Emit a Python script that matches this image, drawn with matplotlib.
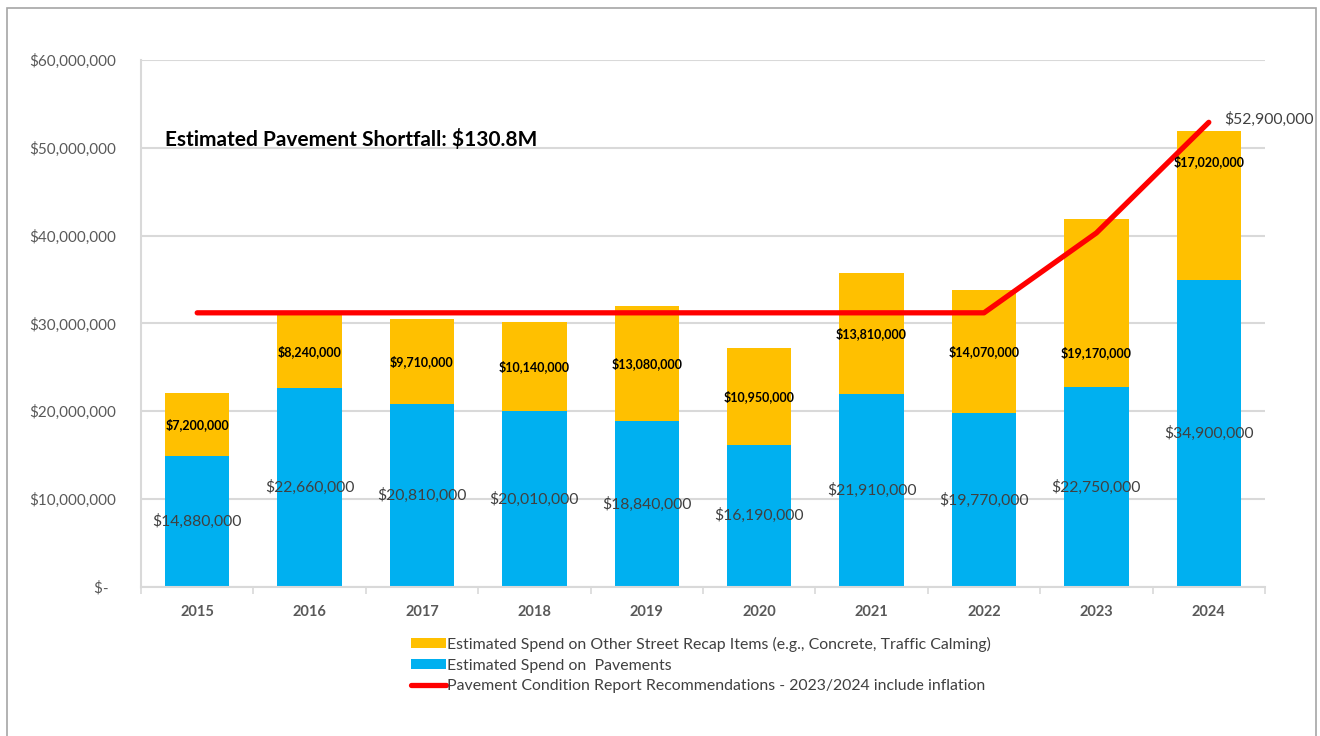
import matplotlib
matplotlib.use("Agg")
import matplotlib.pyplot as plt
from matplotlib.ticker import FuncFormatter, FixedLocator
from matplotlib.patches import Rectangle
import numpy as np

plt.rcParams['font.family'] = ['Lato', 'DejaVu Sans']

years = ['2015', '2016', '2017', '2018', '2019', '2020', '2021', '2022', '2023', '2024']
pavements = [14880000, 22660000, 20810000, 20010000, 18840000,
             16190000, 21910000, 19770000, 22750000, 34900000]
other_items = [7200000, 8240000, 9710000, 10140000, 13080000,
               10950000, 13810000, 14070000, 19170000, 17020000]
recommended = [31200000, 31200000, 31200000, 31200000, 31200000,
               31200000, 31200000, 31200000, 40300000, 52900000]
shortfall_text = "Estimated Pavement Shortfall: $130.8M"

ORANGE = '#FFC000'
BLUE = '#00B0F0'
RED = '#FF0000'
GRID = '#D9D9D9'
TEXT = '#595959'

fig = plt.figure(figsize=(13.2, 7.36), dpi=100)
ax = fig.add_axes([141 / 1320, 1 - 586.7 / 736, (1265 - 141) / 1320, (586.7 - 60) / 736])

# chart frame
fig.patches.append(Rectangle((7 / 1320, -0.01), (1316 - 7) / 1320, 1 - 8 / 736 + 0.01,
                             transform=fig.transFigure, fill=False,
                             edgecolor='#A6A6A6', linewidth=1.2))

x = np.arange(len(years))
w = 0.572
b1 = ax.bar(x, pavements, w, color=BLUE, zorder=2,
            label='Estimated Spend on  Pavements')
b2 = ax.bar(x, other_items, w, bottom=pavements, color=ORANGE, zorder=2,
            label='Estimated Spend on Other Street Recap Items (e.g., Concrete, Traffic Calming)')
line, = ax.plot(x, recommended, color=RED, linewidth=3.8, zorder=3,
                solid_capstyle='round', solid_joinstyle='round',
                label='Pavement Condition Report Recommendations - 2023/2024 include inflation')

def money(v):
    return f"${v:,.0f}"

for i in x:
    ax.text(i, pavements[i] / 2, money(pavements[i]), ha='center', va='center',
            fontsize=11.3, color='#404040', zorder=4)

# the last two orange labels were nudged off-centre
label_shift = {8: -5700000, 9: 5000000}
for i in x:
    yc = pavements[i] + other_items[i] / 2 + label_shift.get(i, 0)
    ax.text(i, yc, money(other_items[i]), ha='center', va='center',
            fontsize=9, fontweight='bold', color='black', zorder=4)

ax.annotate(money(recommended[-1]), (x[-1], recommended[-1]),
            xytext=(11, 2), textcoords='offset points', ha='left', va='center',
            fontsize=11.3, color='#404040')

ax.text(-0.29, 51000000, shortfall_text, fontsize=15, fontweight='bold',
        color='black', ha='left', va='center')

ax.set_xlim(-0.5, len(years) - 0.5)
ax.set_ylim(0, 60000000)
ax.set_yticks(np.arange(0, 60000001, 10000000))
ax.yaxis.set_major_formatter(FuncFormatter(lambda v, p: '$-  ' if v == 0 else money(v)))
ax.set_xticks(x)
ax.set_xticklabels(years, fontweight='bold')
ax.xaxis.set_minor_locator(FixedLocator(np.arange(-0.5, len(years), 1.0)))
ax.tick_params(axis='x', which='major', length=0, pad=13, labelsize=10.5, labelcolor=TEXT)
ax.tick_params(axis='x', which='minor', length=5, width=1.2, color=GRID)
ax.tick_params(axis='y', length=0, pad=18, labelsize=11, labelcolor=TEXT)

ax.grid(axis='y', color=GRID, linewidth=1.5, zorder=0)
ax.set_axisbelow(True)
for s in ['top', 'right']:
    ax.spines[s].set_visible(False)
for s in ['left', 'bottom']:
    ax.spines[s].set_color(GRID)
    ax.spines[s].set_linewidth(1.5)

leg = fig.legend([b2, b1, line], [b2.get_label(), b1.get_label(), line.get_label()],
                 loc='upper left', bbox_to_anchor=(403 / 1320, 1 - 629 / 736),
                 frameon=False, fontsize=11.4, handlelength=2.2, handleheight=0.6,
                 handletextpad=0.1, labelspacing=0.42, borderpad=0)
for t in leg.get_texts():
    t.set_color('#404040')

fig.savefig('out.png', dpi=100, facecolor='white')
